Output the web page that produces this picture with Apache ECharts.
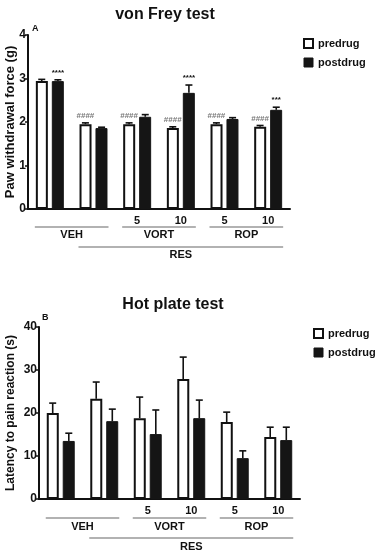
<!DOCTYPE html>
<html>
<head>
<meta charset="utf-8">
<script src="https://cdn.jsdelivr.net/npm/echarts@6/dist/echarts.min.js"></script>
<style>
  html, body { margin: 0; padding: 0; background: #fff; }
  #chart { width: 375px; height: 550px; }
</style>
</head>
<body>
<div id="chart"></div>
<script>
// tick labels under the bars (dose)
var doseLabels = ['', '', '5', '10', '5', '10'];

// von Frey test (g)
var vfPre = [2.94, 1.95, 1.95, 1.86, 1.95, 1.89];
var vfPreErr = [0.04, 0.03, 0.03, 0.03, 0.03, 0.03];
var vfPost = [2.94, 1.86, 2.12, 2.67, 2.07, 2.28];
var vfPostErr = [0.03, 0.02, 0.05, 0.18, 0.03, 0.06];
var vfPreMarks = ['', '####', '####', '####', '####', '####'];
var vfPostMarks = ['****', '', '', '****', '', '***'];

// hot plate test (s)
var hpPre = [20.0, 23.3, 18.8, 27.9, 17.9, 14.4];
var hpPreErr = [2.3, 3.9, 4.9, 5.1, 2.3, 2.3];
var hpPost = [13.5, 18.1, 15.1, 18.8, 9.5, 13.7];
var hpPostErr = [1.8, 2.8, 5.6, 4.2, 1.7, 3.0];

// treatment brackets below the axis (category index ranges)
var drugGroups = [
  { name: 'VEH', from: 0, to: 1 },
  { name: 'VORT', from: 2, to: 3 },
  { name: 'ROP', from: 4, to: 5 }
];
var resGroup = { name: 'RES', from: 1, to: 5 };

var FONT = 'Liberation Sans, Arial, sans-serif';
var chart = echarts.init(document.getElementById('chart'));

function errData(vals, errs, marks, side) {
  return vals.map(function (v, i) {
    return [i, v, v + errs[i], side, marks ? marks[i] : ''];
  });
}

// draws top whisker + cap, and the significance mark above it
function renderErr(params, api) {
  var idx = api.value(0);
  var side = api.value(3);
  var band = api.size([1, 0])[0];
  var off = band * 0.185 * (side === 0 ? -1 : 1);
  var base = api.coord([idx, api.value(1)]);
  var top = api.coord([idx, api.value(2)]);
  var x = base[0] + off;
  var mark = api.value(4);
  var children = [
    { type: 'line', shape: { x1: x, y1: base[1], x2: x, y2: top[1] },
      style: { stroke: '#111', lineWidth: 1.6 } },
    { type: 'line', shape: { x1: x - 3.5, y1: top[1], x2: x + 3.5, y2: top[1] },
      style: { stroke: '#111', lineWidth: 1.6 } }
  ];
  if (mark) {
    children.push({ type: 'text', x: x, y: top[1] - 3,
      style: { text: mark, fill: mark.charAt(0) === '#' ? '#777' : '#111',
        font: 'bold 8px ' + FONT, align: 'center', verticalAlign: 'bottom' } });
  }
  return { type: 'group', children: children };
}

var axisLineStyle = { color: '#111', width: 2 };

function xAxisCfg(gi) {
  return {
    type: 'category', gridIndex: gi, data: doseLabels,
    axisLine: { lineStyle: axisLineStyle },
    axisTick: { alignWithLabel: true, length: 4, lineStyle: { color: '#111', width: 1.5 } },
    axisLabel: { interval: 0, color: '#111', fontWeight: 'bold', fontSize: 11, fontFamily: FONT, margin: 6 }
  };
}

function yAxisCfg(gi, max, interval, name, gap, nameSize) {
  return {
    type: 'value', gridIndex: gi, min: 0, max: max, interval: interval,
    name: name, nameLocation: 'middle', nameGap: gap, nameMoveOverlap: false,
    nameTextStyle: { color: '#111', fontWeight: 'bold', fontSize: nameSize, fontFamily: FONT },
    axisLine: { show: true, lineStyle: axisLineStyle },
    axisTick: { show: true, length: 3, lineStyle: { color: '#111', width: 1.5 } },
    axisLabel: { color: '#111', fontWeight: 'bold', fontSize: 12, fontFamily: FONT, margin: 2 },
    splitLine: { show: false }
  };
}

var preStyle = { color: '#fff', borderColor: '#111', borderWidth: 2 };
var postStyle = { color: '#151515', borderColor: '#151515', borderWidth: 1 };

var legendCfg = {
  orient: 'vertical', itemWidth: 9, itemHeight: 9, itemGap: 8,
  textStyle: { color: '#111', fontWeight: 'bold', fontSize: 11, fontFamily: FONT },
  data: [
    { name: 'predrug', icon: 'rect', itemStyle: preStyle },
    { name: 'postdrug', icon: 'rect', itemStyle: postStyle }
  ],
  selectedMode: false
};

var option = {
  animation: false,
  backgroundColor: '#fff',
  title: [
    { text: 'von Frey test', left: 160, top: 2, textAlign: 'center',
      textStyle: { fontSize: 16, fontWeight: 'bold', color: '#111', fontFamily: FONT } },
    { text: 'Hot plate test', left: 168, top: 292, textAlign: 'center',
      textStyle: { fontSize: 16, fontWeight: 'bold', color: '#111', fontFamily: FONT } }
  ],
  legend: [
    Object.assign({ left: 298, top: 33 }, legendCfg),
    Object.assign({ left: 308, top: 323 }, legendCfg)
  ],
  grid: [
    { left: 28, right: 85, top: 35, bottom: 341, containLabel: false, outerBoundsMode: 'none' },
    { left: 39, right: 75, top: 327, bottom: 51, containLabel: false, outerBoundsMode: 'none' }
  ],
  xAxis: [xAxisCfg(0), xAxisCfg(1)],
  yAxis: [
    yAxisCfg(0, 4, 1, 'Paw withdrawal force (g)', 11, 13),
    yAxisCfg(1, 40, 10, 'Latency to pain reaction (s)', 22, 12)
  ],
  series: [
    { name: 'predrug', type: 'bar', xAxisIndex: 0, yAxisIndex: 0, data: vfPre,
      barWidth: 12, barGap: '33%', itemStyle: preStyle },
    { name: 'postdrug', type: 'bar', xAxisIndex: 0, yAxisIndex: 0, data: vfPost,
      barWidth: 12, barGap: '33%', itemStyle: postStyle },
    { type: 'custom', xAxisIndex: 0, yAxisIndex: 0, renderItem: renderErr, z: 5,
      data: errData(vfPre, vfPreErr, vfPreMarks, 0).concat(errData(vfPost, vfPostErr, vfPostMarks, 1)) },
    { name: 'predrug', type: 'bar', xAxisIndex: 1, yAxisIndex: 1, data: hpPre,
      barWidth: 12, barGap: '33%', itemStyle: preStyle },
    { name: 'postdrug', type: 'bar', xAxisIndex: 1, yAxisIndex: 1, data: hpPost,
      barWidth: 12, barGap: '33%', itemStyle: postStyle },
    { type: 'custom', xAxisIndex: 1, yAxisIndex: 1, renderItem: renderErr, z: 5,
      data: errData(hpPre, hpPreErr, null, 0).concat(errData(hpPost, hpPostErr, null, 1)) }
  ]
};

chart.setOption(option);

// brackets and panel letters, placed from the axis positions
function bracketGraphics(gi, lineY, textY) {
  var out = [];
  function px(i) { return chart.convertToPixel({ xAxisIndex: gi }, i); }
  function add(g, y, ty) {
    var x1 = px(g.from) - 15, x2 = px(g.to) + 15;
    out.push({ type: 'line', shape: { x1: x1, y1: y, x2: x2, y2: y },
      style: { stroke: '#999', lineWidth: 1.5 } });
    out.push({ type: 'text', x: (x1 + x2) / 2, y: ty,
      style: { text: g.name, fill: '#111', font: 'bold 11px ' + FONT, align: 'center', verticalAlign: 'middle' } });
  }
  drugGroups.forEach(function (g) { add(g, lineY, textY); });
  add(resGroup, lineY + 20, textY + 20);
  return out;
}

var g = bracketGraphics(0, 227, 235).concat(bracketGraphics(1, 518, 527));
g.push({ type: 'text', x: 32, y: 29, style: { text: 'A', fill: '#111', font: 'bold 9px ' + FONT, verticalAlign: 'middle' } });
g.push({ type: 'text', x: 42, y: 318, style: { text: 'B', fill: '#111', font: 'bold 9px ' + FONT, verticalAlign: 'middle' } });
chart.setOption({ graphic: g });
</script>
</body>
</html>
